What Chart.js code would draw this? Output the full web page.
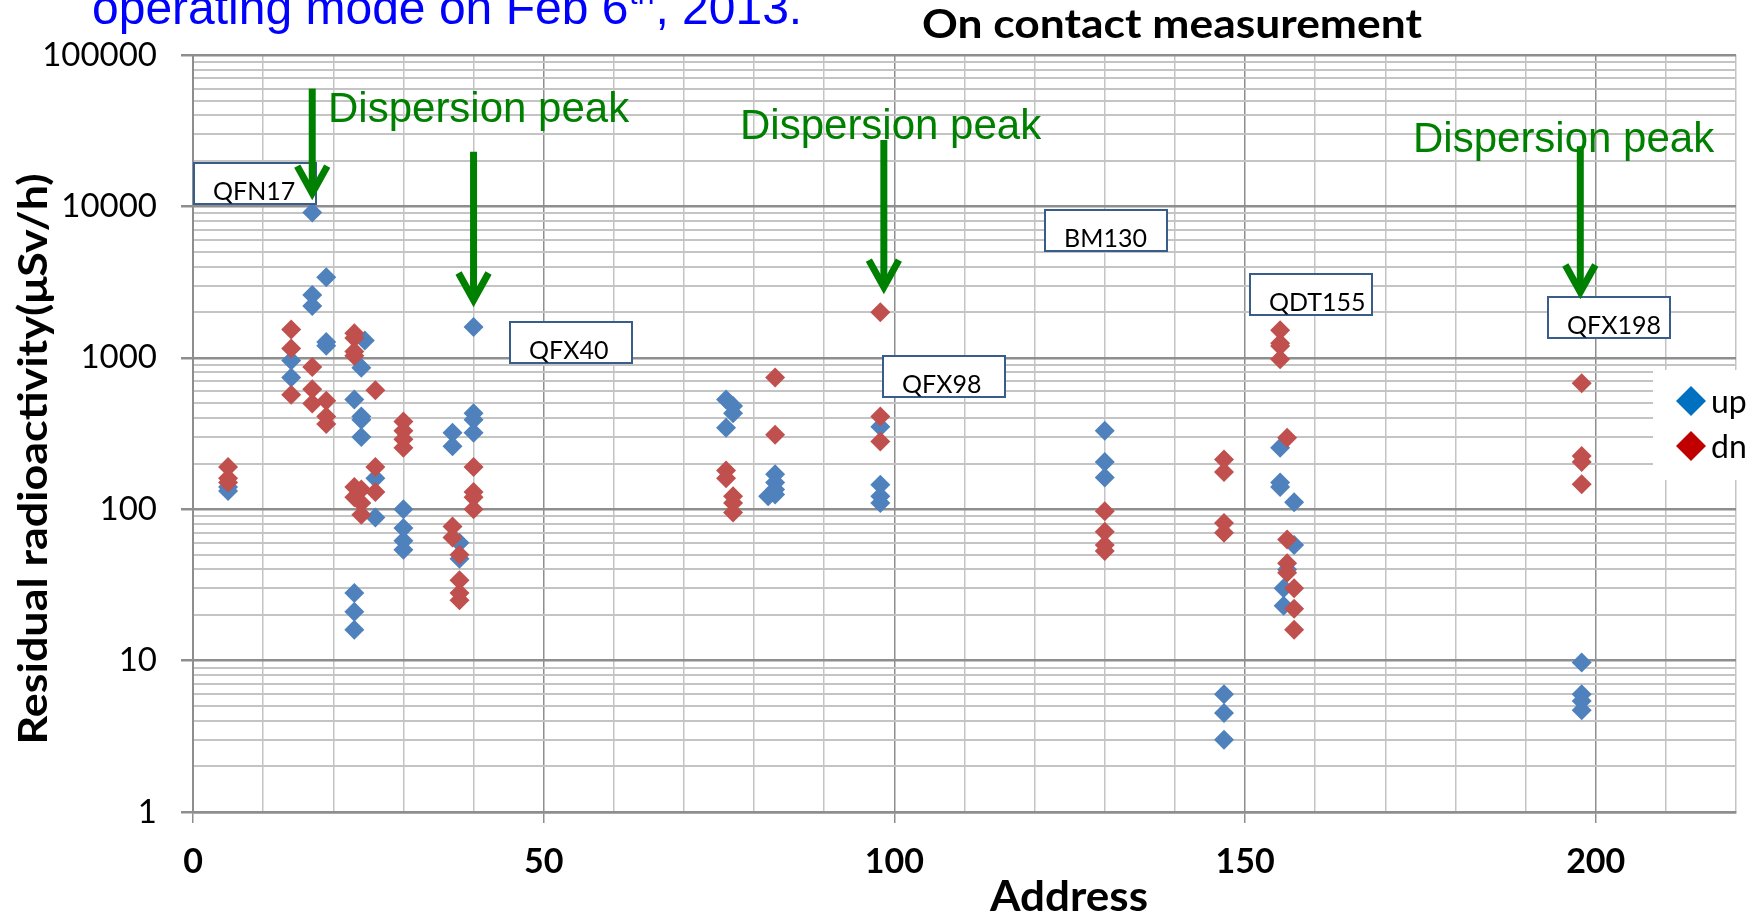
<!DOCTYPE html>
<html>
<head>
<meta charset="utf-8">
<script src="https://cdn.jsdelivr.net/npm/chart.js@4.4.1/dist/chart.umd.min.js"></script>
<style>
  html, body { margin: 0; padding: 0; background: #ffffff; overflow: hidden; }
  canvas { display: block; }
</style>
</head>
<body>
<canvas id="chart" width="1764" height="915"></canvas>
<script>
// Residual radioactivity on contact, upstream ("up") and downstream ("dn") side of each element
const UP_ADDR = [5, 5, 14, 14, 17, 17, 17, 19, 19, 19, 23, 23, 23, 23, 24.5, 24, 24, 24, 24,
  26, 26, 30, 30, 30, 30, 37, 37, 38, 38, 40, 40, 40, 40,
  76, 76, 77, 77, 82, 83, 83, 83, 83, 98, 98, 98, 98,
  130, 130, 130, 147, 147, 147, 155, 155, 155, 155.5, 155.5, 156, 157, 157,
  198, 198, 198, 198];
const UP_VAL = [140, 132, 960, 740, 9100, 2600, 2200, 3400, 1270, 1200, 530, 28, 21, 16, 1300, 860, 410, 390, 300,
  160, 88, 100, 75, 62, 54, 320, 260, 60, 47, 1600, 430, 390, 320,
  530, 345, 480, 430, 122, 170, 150, 135, 125, 350, 145, 122, 110,
  330, 205, 162, 6, 4.5, 3, 255, 150, 140, 30, 23, 40, 111, 58,
  9.7, 6, 5.4, 4.7];

const DN_ADDR = [5, 5, 5, 14, 14, 14, 17, 17, 17, 19, 19, 19,
  23, 23, 23, 23, 23, 23, 24, 24, 24, 26, 26, 26, 30, 30, 30, 30,
  37, 37, 38, 38, 38, 38, 40, 40, 40, 40,
  76, 76, 77, 77, 77, 83, 83, 98, 98, 98,
  130, 130, 130, 130, 147, 147, 147, 147,
  155, 155, 155, 155, 156, 156, 156, 156, 157, 157, 157,
  198, 198, 198, 198];
const DN_VAL = [190, 160, 150, 1540, 1150, 570, 870, 620, 500, 520, 410, 365,
  1450, 1350, 1100, 1030, 140, 120, 135, 110, 92, 610, 190, 130, 380, 330, 290, 255,
  77, 65, 50, 34, 28, 25, 190, 130, 120, 100,
  180, 160, 122, 110, 95, 740, 310, 2000, 410, 280,
  97, 71, 58, 53, 213, 176, 81, 70,
  1520, 1250, 1195, 980, 296, 63, 44, 38, 30, 22, 16,
  680, 225, 205, 146];

const SERIES_NAMES = ['up', 'dn'];
const X_LABELS = [0, 50, 100, 150, 200];
const Y_DECADES = [1, 10, 100, 1000, 10000, 100000];

// Element tags: text plus top-left anchor (address, µSv/h)
const TAG_TEXT = ['QFN17', 'QFX40', 'QFX98', 'BM130', 'QDT155', 'QFX198'];
const TAG_ADDR = [0.1, 45.2, 98.4, 121.5, 150.7, 193.2];
const TAG_VAL = [19400, 1720, 1020, 9400, 3590, 2520];

// Dispersion-peak arrows: address, tail value, tip value
const ARROW_ADDR = [17, 40, 98.5, 197.8];
const ARROW_TOP = [60000, 23000, 27500, 25000];
const ARROW_TIP = [11700, 2300, 2800, 2600];
const PEAK_TEXT = 'Dispersion peak';

// log grid: 1..9 in every decade
const Y_GRID = [];
for (let i = 0; i < Y_DECADES.length - 1; i++) {
  for (let k = 1; k <= 9; k++) Y_GRID.push(k * Y_DECADES[i]);
}
Y_GRID.push(Y_DECADES[Y_DECADES.length - 1]);

const toPoints = (xs, ys) => xs.map((x, i) => ({ x: x, y: ys[i] }));

const GRID_DARK = '#8e8e8e';
const GRID_LIGHT = '#c4c4c4';
const GREEN = '#008000';

// draws centred text squeezed or stretched horizontally to a given width
function fitText(ctx, text, cx, baseline, width) {
  const w = ctx.measureText(text).width;
  ctx.save();
  ctx.translate(cx, baseline);
  ctx.scale(width / w, 1);
  ctx.textAlign = 'center';
  ctx.fillText(text, 0, 0);
  ctx.restore();
}

const decorations = {
  id: 'decorations',
  afterDatasetsDraw(chart) {
    const ctx = chart.ctx;
    const xs = chart.scales.x, ys = chart.scales.y;
    ctx.save();

    // element tags
    ctx.font = '25px Lato';
    ctx.textBaseline = 'alphabetic';
    ctx.textAlign = 'left';
    TAG_TEXT.forEach((t, i) => {
      const px = Math.round(xs.getPixelForValue(TAG_ADDR[i]));
      const py = Math.round(ys.getPixelForValue(TAG_VAL[i]));
      const w = 122, h = 41;
      ctx.fillStyle = '#ffffff';
      ctx.fillRect(px, py, w, h);
      ctx.strokeStyle = '#385d8a';
      ctx.lineWidth = 2;
      ctx.strokeRect(px, py, w, h);
      ctx.fillStyle = '#000000';
      ctx.fillText(t, px + 19, py + h - 4);
    });

    // arrows
    ctx.strokeStyle = GREEN;
    ctx.lineWidth = 7;
    ctx.lineCap = 'butt';
    ctx.lineJoin = 'miter';
    ARROW_ADDR.forEach((a, i) => {
      const px = xs.getPixelForValue(a);
      const top = ys.getPixelForValue(ARROW_TOP[i]);
      const tip = ys.getPixelForValue(ARROW_TIP[i]);
      ctx.beginPath();
      ctx.moveTo(px, top);
      ctx.lineTo(px, tip - 3);
      ctx.stroke();
      ctx.beginPath();
      ctx.moveTo(px - 15, tip - 30);
      ctx.lineTo(px, tip - 3);
      ctx.lineTo(px + 15, tip - 30);
      ctx.stroke();
    });

    // arrow captions
    ctx.fillStyle = GREEN;
    ctx.font = '42px "Liberation Sans"';
    ctx.fillText(PEAK_TEXT, 328, 122);
    ctx.fillText(PEAK_TEXT, 740, 139);
    ctx.fillText(PEAK_TEXT, 1413, 152);

    // legend
    ctx.fillStyle = '#ffffff';
    ctx.fillRect(1653, 370, 111, 110);
    const legendColors = ['#0070c0', '#c00000'];
    SERIES_NAMES.forEach((n, i) => {
      const cx = 1691, cy = 401 + i * 45, r = 15;
      ctx.fillStyle = legendColors[i];
      ctx.beginPath();
      ctx.moveTo(cx - r, cy);
      ctx.lineTo(cx, cy - r);
      ctx.lineTo(cx + r, cy);
      ctx.lineTo(cx, cy + r);
      ctx.closePath();
      ctx.fill();
      ctx.fillStyle = '#000000';
      ctx.font = '32px Lato';
      ctx.fillText(n, 1711, cy + 12);
    });
    ctx.restore();
  },
  afterDraw(chart) {
    const ctx = chart.ctx;
    ctx.save();
    ctx.textBaseline = 'alphabetic';
    // slide heading, partly above the top edge
    ctx.fillStyle = '#0000ff';
    ctx.font = '48px "Liberation Sans"';
    ctx.textAlign = 'left';
    let x = 92;
    const part1 = 'operating mode on Feb 6';
    ctx.fillText(part1, x, 24);
    x += ctx.measureText(part1).width;
    ctx.font = '30px "Liberation Sans"';
    ctx.fillText('th', x + 1, 4);
    x += ctx.measureText('th').width + 2;
    ctx.font = '48px "Liberation Sans"';
    ctx.fillText(', 2013.', x, 24);

    // chart title
    ctx.fillStyle = '#000000';
    ctx.font = 'bold 40px Lato';
    fitText(ctx, 'On contact measurement', 1172, 38, 500);

    // axis titles
    ctx.font = 'bold 42px Lato';
    fitText(ctx, 'Address', 1069, 911, 158);
    ctx.save();
    ctx.translate(47, 459);
    ctx.rotate(-Math.PI / 2);
    ctx.font = 'bold 40px Lato';
    fitText(ctx, 'Residual radioactivity(\u03bcSv/h)', 0, 0, 571);
    ctx.restore();
    ctx.restore();
  }
};

new Chart(document.getElementById('chart'), {
  type: 'scatter',
  data: {
    datasets: [
      {
        label: SERIES_NAMES[0],
        data: toPoints(UP_ADDR, UP_VAL),
        pointStyle: 'rectRot',
        pointRadius: 10,
        pointHoverRadius: 10,
        pointBorderWidth: 0,
        backgroundColor: '#4f81bd',
        borderColor: '#4f81bd',
        order: 2
      },
      {
        label: SERIES_NAMES[1],
        data: toPoints(DN_ADDR, DN_VAL),
        pointStyle: 'rectRot',
        pointRadius: 10,
        pointHoverRadius: 10,
        pointBorderWidth: 0,
        backgroundColor: '#c0504d',
        borderColor: '#c0504d',
        order: 1
      }
    ]
  },
  options: {
    responsive: false,
    devicePixelRatio: 1,
    animation: false,
    events: [],
    layout: { padding: { top: 55, right: 28, bottom: 0, left: 0 } },
    plugins: {
      legend: { display: false },
      title: { display: false },
      tooltip: { enabled: false }
    },
    scales: {
      x: {
        type: 'linear',
        min: 0,
        max: 220,
        afterFit(scale) { scale.height = 103; },
        ticks: {
          stepSize: 10,
          autoSkip: false,
          maxRotation: 0,
          padding: 19,
          color: '#000000',
          font: { family: 'Lato', size: 34, weight: 'bold' },
          callback: (v) => (X_LABELS.includes(v) ? String(v) : '')
        },
        grid: {
          color: (c) => (c.tick && c.tick.value % 50 === 0 ? GRID_DARK : GRID_LIGHT),
          lineWidth: 1.5,
          tickLength: 11,
          tickColor: (c) => (c.tick && c.tick.value % 50 === 0 ? GRID_DARK : 'rgba(0,0,0,0)')
        },
        border: { display: true, color: GRID_DARK, width: 2.5 }
      },
      y: {
        type: 'logarithmic',
        min: 1,
        max: 100000,
        afterFit(scale) { scale.width = 193; },
        afterBuildTicks(scale) { scale.ticks = Y_GRID.map((v) => ({ value: v })); },
        ticks: {
          autoSkip: false,
          padding: 24,
          color: '#000000',
          font: { family: 'Lato', size: 33 },
          callback: (v) => (Y_DECADES.includes(v) ? String(v) : '')
        },
        grid: {
          color: (c) => (c.tick && Y_DECADES.includes(c.tick.value) ? GRID_DARK : GRID_LIGHT),
          lineWidth: (c) => (c.tick && Y_DECADES.includes(c.tick.value) ? 2.5 : 2),
          tickLength: 12,
          tickColor: (c) => (c.tick && Y_DECADES.includes(c.tick.value) ? GRID_DARK : 'rgba(0,0,0,0)')
        },
        border: { display: true, color: GRID_DARK, width: 2 }
      }
    }
  },
  plugins: [decorations]
});
</script>
</body>
</html>
